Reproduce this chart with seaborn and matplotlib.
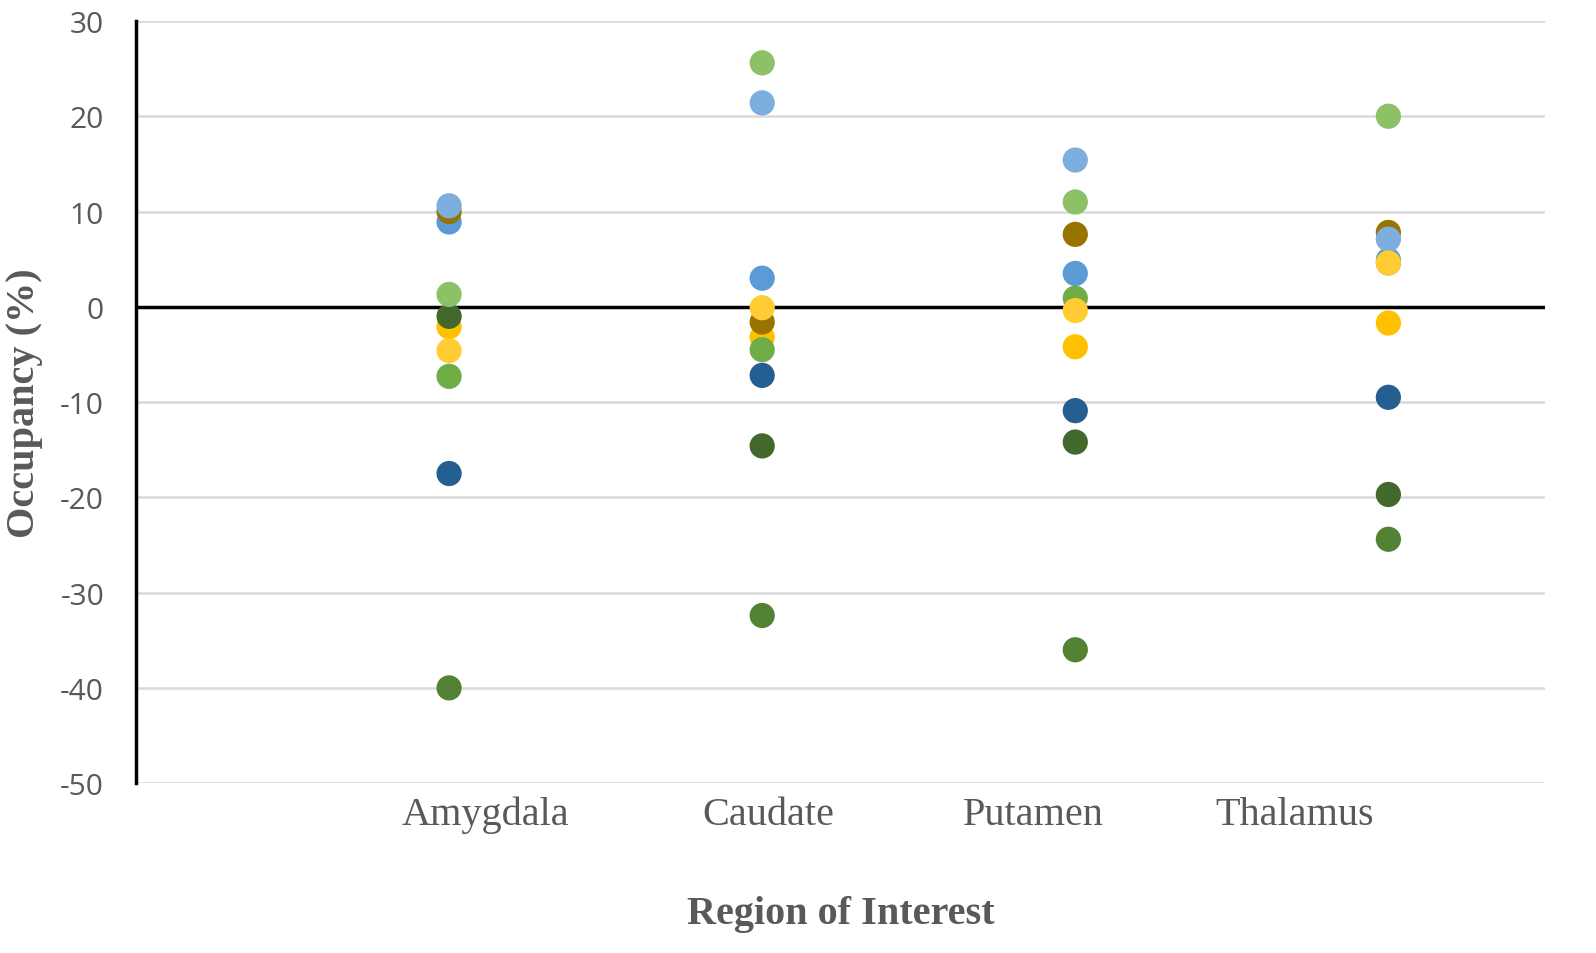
import numpy as np
import pandas as pd
import seaborn as sns
import matplotlib.pyplot as plt

### data (Occupancy %, one value per region)
regions = ['Amygdala', 'Caudate', 'Putamen', 'Thalamus']

s1 = [8.9, 3.0, 3.5, 4.9]
s2 = [-2.1, -3.2, -4.2, -1.7]
s3 = [-7.3, -4.5, 0.9, 4.6]
s4 = [-17.5, -7.2, -10.9, -9.5]
s5 = [10.0, -1.6, 7.6, 7.8]
s6 = [-1.0, -14.6, -14.2, -19.7]
s7 = [10.6, 21.4, 15.4, 7.1]
s8 = [-4.6, -0.1, -0.4, 4.6]
s9 = [1.3, 25.6, 11.0, 20.0]
s10 = [-40.0, -32.4, -36.0, -24.4]

series = {'s1': s1, 's2': s2, 's3': s3, 's4': s4, 's5': s5,
          's6': s6, 's7': s7, 's8': s8, 's9': s9, 's10': s10}
colors = ['#5B9BD5', '#FFC000', '#70AD47', '#255E91', '#997300',
          '#43682B', '#7CAFDD', '#FFCD33', '#8CC168', '#548235']

# label positions (Excel puts the category labels off the point columns)
label_pos = [1.115, 2.02, 2.865, 3.70]

rows = []
for name, vals in series.items():
    for i, v in enumerate(vals):
        rows.append({'pos': i + 1, 'region': regions[i], 'value': v, 'series': name})
df = pd.DataFrame(rows)

sns.set_style('white')
plt.rcParams['axes.unicode_minus'] = False
fig, ax = plt.subplots(figsize=(15.96, 9.54), dpi=100)
fig.subplots_adjust(left=0.0852, right=0.968, top=0.977, bottom=0.178)

for y in range(-50, 31, 10):
    ax.axhline(y, color='#D9D9D9', lw=1.8, zorder=0)
ax.axhline(0, color='black', lw=2.5, zorder=1)

sns.scatterplot(data=df, x='pos', y='value', hue='series', hue_order=list(series.keys()),
                palette=colors, s=330, linewidth=0, legend=False, ax=ax, zorder=3)

ax.set_xlim(0, 4.5)
ax.set_ylim(-50, 30)
ax.set_yticks(range(-50, 31, 10))
ax.set_xticks(label_pos)
ax.set_xticklabels(regions, family='Liberation Serif', fontsize=29, color='#595959')
for t in ax.get_yticklabels():
    t.set_family('Open Sans')
    t.set_fontsize(21.5)
    t.set_color('#595959')
ax.tick_params(axis='both', length=0)
ax.tick_params(axis='y', pad=23)
ax.tick_params(axis='x', pad=9)

for side in ['top', 'right', 'bottom']:
    ax.spines[side].set_visible(False)
ax.spines['left'].set_color('black')
ax.spines['left'].set_linewidth(2.5)
ax.spines['left'].set_zorder(4)

ax.set_xlabel('Region of Interest', family='Liberation Serif', fontsize=29,
              fontweight='bold', color='#595959')
ax.set_ylabel('Occupancy (%)', family='Liberation Serif', fontsize=29,
              fontweight='bold', color='#595959')
ax.xaxis.set_label_coords(0.5, -0.147)
ax.yaxis.set_label_coords(-0.066, 0.5)

plt.savefig('out.png', dpi=100)
